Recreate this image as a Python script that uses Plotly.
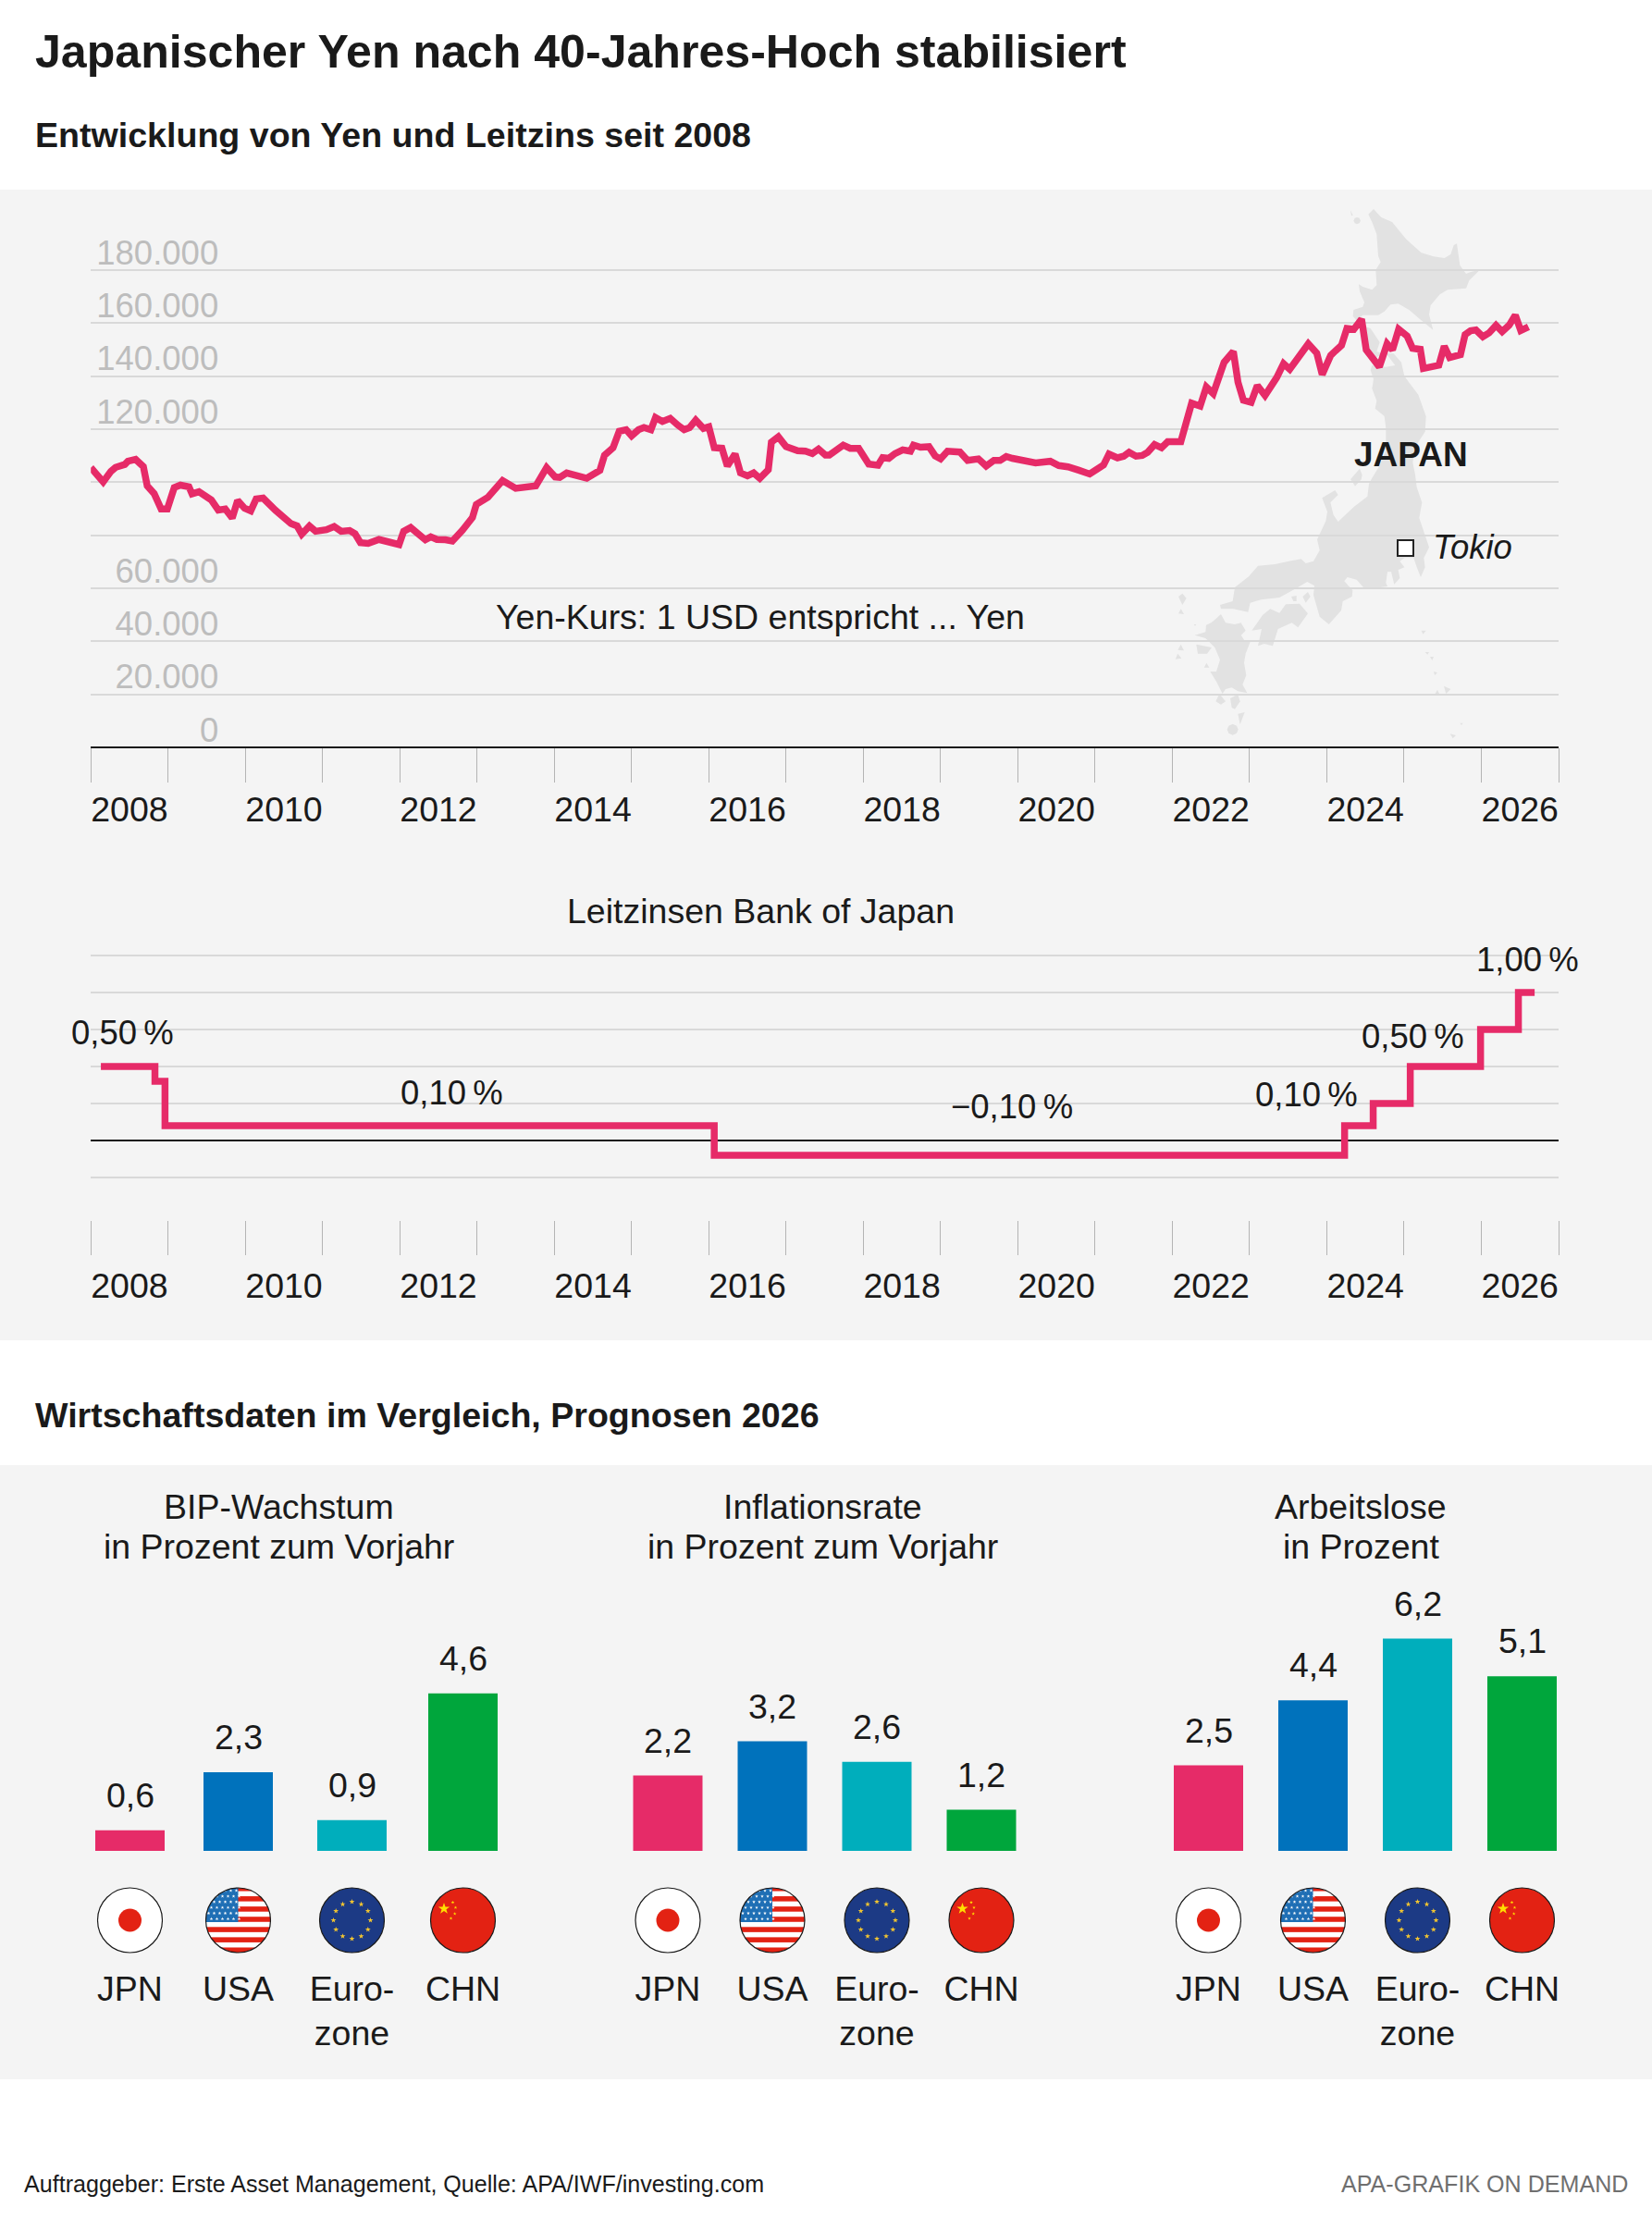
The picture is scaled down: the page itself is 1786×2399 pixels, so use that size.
import base64, math
import plotly.graph_objects as go

W, H = 1786, 2399
TEXT = "#1a1a1a"
PINK = "#E62B68"
BLUE = "#0072BC"
TEAL = "#00AEBC"
GREEN = "#00A63C"
PANEL = "#F4F4F4"
GRID = "#D9D9D9"
FONT = "Liberation Sans"

# ---------- data ----------
yen_years = [2008.0,2008.16,2008.26,2008.32,2008.44,2008.48,2008.58,2008.68,2008.73,2008.82,2008.91,2008.99,
 2009.08,2009.16,2009.27,2009.31,2009.40,2009.56,2009.65,2009.74,2009.83,2009.90,2009.99,
 2010.07,2010.14,2010.23,2010.39,2010.59,2010.67,2010.73,2010.83,2010.91,
 2011.05,2011.15,2011.24,2011.35,2011.42,2011.49,2011.59,2011.73,2011.99,
 2012.05,2012.14,2012.25,2012.33,2012.40,2012.48,2012.59,2012.68,2012.81,2012.94,2012.99,
 2013.14,2013.33,2013.50,2013.76,2013.90,
 2014.01,2014.07,2014.16,2014.29,2014.42,2014.59,2014.65,2014.76,2014.84,2014.93,
 2015.0,2015.09,2015.16,2015.25,2015.31,2015.40,2015.50,2015.60,2015.68,2015.75,2015.83,2015.93,
 2016.0,2016.07,2016.17,2016.24,2016.34,2016.41,2016.50,2016.58,2016.66,2016.77,2016.81,2016.90,
 2017.0,2017.15,2017.25,2017.34,2017.42,2017.51,2017.56,2017.74,2017.83,2017.94,
 2018.07,2018.19,2018.25,2018.33,2018.41,2018.51,2018.61,2018.65,2018.74,2018.85,2018.93,
 2019.0,2019.09,2019.25,2019.35,2019.49,2019.59,2019.69,2019.77,2019.85,2019.93,
 2020.23,2020.42,2020.53,2020.65,2020.79,2020.93,
 2021.11,2021.18,2021.29,2021.37,2021.44,2021.53,2021.61,2021.68,2021.77,2021.86,2021.94,
 2022.11,2022.25,2022.36,2022.44,2022.53,2022.67,2022.79,2022.85,2022.92,
 2023.02,2023.10,2023.20,2023.35,2023.44,2023.52,2023.76,2023.87,2023.94,
 2024.05,2024.11,2024.19,2024.26,2024.35,2024.45,2024.51,2024.68,2024.78,2024.85,2024.93,
 2025.04,2025.11,2025.21,2025.25,2025.45,2025.52,2025.59,2025.73,2025.79,2025.86,2025.93,
 2026.02,2026.10,2026.19,2026.27,2026.36,2026.44,2026.51,2026.61]
yen_values = [105.5,100.1,104.1,105.6,106.7,107.9,108.6,105.9,98.6,95.7,89.9,89.9,
 98.0,98.9,98.3,95.6,96.4,93.3,89.5,89.9,86.5,93.1,90.2,
 89.2,93.7,94.0,89.4,84.4,83.5,80.4,83.5,81.5,
 82.1,83.3,81.5,81.8,80.6,77.2,76.9,78.4,76.5,
 81.5,82.9,80.0,78.3,79.4,78.4,78.3,77.8,81.9,86.7,91.6,
 94.3,100.6,97.7,98.6,105.5,
 102.0,101.8,103.5,102.3,101.5,104.5,110.2,113.0,119.2,119.8,
 117.5,119.8,120.6,119.8,124.4,122.9,124.1,121.5,119.8,120.6,123.4,120.3,
 120.9,113.0,112.8,106.1,110.7,103.5,102.4,103.5,101.5,104.7,115.1,117.1,
 113.4,111.9,111.7,110.8,112.5,110.2,110.2,114.0,112.8,112.8,
 106.8,106.4,109.3,109.0,110.8,112.2,111.7,114.0,113.2,113.4,109.9,
 108.8,111.7,111.4,108.2,108.8,106.1,108.2,108.2,109.7,109.0,
 107.3,107.9,106.3,105.8,104.5,103.1,
 106.5,110.6,109.2,109.8,111.3,109.8,110.1,111.3,114.2,113.0,115.3,
 115.3,129.8,128.7,135.9,133.4,145.2,149.3,137.7,130.9,
 130.1,136.5,132.7,139.4,144.7,142.6,152.2,148.7,140.6,
 147.8,149.5,151.6,158.0,157.7,161.5,149.9,143.5,152.2,149.9,157.7,
 155.1,150.5,150.1,142.9,144.1,151.3,147.0,148.1,155.7,157.1,157.4,
 154.9,156.3,159.2,156.8,159.2,163.0,157.2,158.6]

rate_years = [2008.13,2008.83,2008.96,2016.07,2024.23,2024.60,2025.08,2025.99,2026.48,2026.69]
rate_values = [0.50,0.40,0.10,-0.10,0.10,0.25,0.50,0.75,1.00,1.00]
rate_label_text = ["0,50\u2009%","0,10\u2009%","\u22120,10\u2009%","0,10\u2009%","0,50\u2009%","1,00\u2009%"]
rate_label_x = [2008.41,2012.67,2019.92,2023.74,2025.11,2026.60]
rate_label_y = [0.731,0.325,0.231,0.3125,0.706,1.225]

year_labels = list(range(2008, 2027, 2))
yen_ticks = [0,20,40,60,80,100,120,140,160,180]
yen_ticktext = ["0","20.000","40.000","60.000","","","120.000","140.000","160.000","180.000"]
rate_ticks = [-0.25,0,0.25,0.5,0.75,1.0,1.25]

countries = ["JPN","USA","Euro-<br>zone","CHN"]
bar_colors = [PINK,BLUE,TEAL,GREEN]
gdp = [0.6,2.3,0.9,4.6]
inflation = [2.2,3.2,2.6,1.2]
unemployment = [2.5,4.4,6.2,5.1]
panel_titles = [["BIP-Wachstum","in Prozent zum Vorjahr"],
                ["Inflationsrate","in Prozent zum Vorjahr"],
                ["Arbeitslose","in Prozent"]]

# ---------- helpers ----------
fx = lambda p: p / W
fy = lambda p: 1 - p / H
X0, X1 = 98.2, 1685.0
xdom = [fx(X0), fx(X1)]

def ann(text, x, y, size=37.5, color=TEXT, anchor="left", bold=False, italic=False):
    t = f"<b>{text}</b>" if bold else text
    t = f"<i>{t}</i>" if italic else t
    return dict(text=t, x=fx(x), y=fy(y), xref="paper", yref="paper", showarrow=False,
                xanchor=anchor, yanchor="middle", font=dict(family=FONT, size=size, color=color))

annotations = [
    ann("Japanischer Yen nach 40-Jahres-Hoch stabilisiert", 36, 56, 50.1, bold=True),
    ann("Entwicklung von Yen und Leitzins seit 2008", 36, 146, 37.6, bold=True),
    ann("Wirtschaftsdaten im Vergleich, Prognosen 2026", 36, 1530, 37.6, bold=True),
    ann("Yen-Kurs: 1 USD entspricht ... Yen", 822, 667, anchor="center"),
    ann("Leitzinsen Bank of Japan", 822, 985, anchor="center"),
    ann("JAPAN", 1525, 492, 37, anchor="center", bold=True),
    ann("Tokio", 1547, 592, 36.5, italic=True),
    ann("Auftraggeber: Erste Asset Management, Quelle: APA/IWF/investing.com", 24, 2361, 25.1),
    ann("APA-GRAFIK ON DEMAND", 1762, 2361, 25.1, color="#6f6f6f", anchor="right"),
]
for txt, xv, yv in zip(rate_label_text, rate_label_x, rate_label_y):
    annotations.append(dict(text=txt, x=xv, y=yv, xref="x2", yref="y2", showarrow=False, xanchor="center",
                            yanchor="middle", font=dict(family=FONT, size=36.5, color=TEXT)))

# ---------- map of Japan (decoration) ----------
def z9(pts):  return [(1270 + x / 3, 220 + y / 3) for x, y in pts]
def z10(pts): return [(1250 + x / 3, 510 + y / 3) for x, y in pts]

hokkaido = z9([(645,18),(628,35),(640,60),(655,100),(660,170),(668,190),(652,215),(655,265),(640,280),(610,270),(597,262),
 (600,285),(615,320),(610,335),(580,345),(578,365),(590,380),(610,362),(660,362),(680,350),(700,328),(725,325),(760,345),
 (795,375),(838,410),(825,360),(830,330),(860,295),(885,280),(945,275),(955,250),(990,215),(960,222),(945,228),(925,200),
 (915,130),(905,135),(895,165),(875,177),(840,172),(800,160),(750,115),(705,60),(670,45)])
honshu = z10([(668,-475),(695,-465),(725,-420),(715,-390),(730,-385),(770,-383),(795,-355),(805,-310),(850,-250),(875,-180),
 (872,-130),(840,-80),(832,-30),(840,10),(845,50),(862,100),(853,150),(870,200),(885,245),(868,280),(872,310),(858,342),(845,310),(835,280),
 (805,280),(790,290),(805,310),(785,318),(790,345),(772,365),(762,325),(750,325),(745,360),(750,372),(700,378),(672,375),
 (650,350),(620,342),(610,355),(637,385),(635,405),(605,420),(600,450),(560,495),(530,470),(510,400),(513,370),(490,357),
 (450,380),(400,408),(340,415),(305,425),(298,455),(250,445),(210,445),(207,432),(248,420),(255,375),(300,340),(330,305),
 (385,300),(430,290),(470,283),(485,297),(510,290),(530,255),(522,220),(550,160),(555,130),(538,85),(580,60),(590,75),
 (565,100),(575,140),(590,162),(640,115),(685,80),(690,40),(700,20),(725,-20),(745,-70),(745,-140),(740,-180),(710,-205),
 (715,-230),(700,-270),(705,-300),(695,-330),(700,-345),(745,-340),(775,-345),(745,-385),(710,-370),(690,-400)])
kyushu = z10([(210,462),(225,490),(255,495),(275,490),(290,515),(275,530),(285,545),(305,552),(290,590),(285,620),(292,660),
 (280,690),(295,718),(265,712),(245,700),(225,705),(215,720),(195,680),(175,648),(195,648),(207,610),(190,570),(160,540),
 (125,530),(160,520),(162,497),(178,490),(190,480)])
shikoku = z10([(310,515),(345,465),(370,445),(400,458),(420,430),(465,428),(492,460),(460,505),(440,490),(395,510),(378,565),
 (350,558),(330,565),(342,510)])
islands = [z10(p) for p in [
 [(630,25),(660,-10),(668,10),(665,25),(645,47),(638,35)],
 [(130,560),(180,570),(165,590),(135,590)],
 [(265,785),(287,780),(272,820)],
 [(85,395),(98,410),(85,432),(72,405)],[(72,460),(80,445),(90,462)],[(70,578),(80,560),(90,580)],
 [(62,608),(70,590),(82,605)],[(155,635),(163,620),(172,635)],[(193,745),(205,720),(225,745),(210,755)],
 [(240,735),(265,722),(272,745),(255,770),(245,765)],[(438,405),(455,402),(455,420),(445,420)],
 [(475,405),(492,390),(500,405),(485,425)],[(860,515),(875,515),(865,527)],[(872,585),(885,585),(880,593)],
 [(888,600),(900,600),(895,612)],[(900,648),(912,652),(903,660)],[(933,695),(955,705),(940,720)],
 [(905,720),(912,707),(918,720)],[(985,815),(995,815),(990,822)],[(953,850),(972,855),(962,865)],
 [(122,495),(130,495),(126,500)],
 [(230,836),(235,824),(248,818),(261,824),(266,836),(261,848),(248,854),(235,848)],
]] + [z9([(570,22),(578,38),(573,40)]), z9([(580,56),(584,47),(591,45),(599,47),(603,56),(599,64),(591,67),(584,64)])]

def path_of(pts):
    return "M" + "L".join(f"{fx(x):.5f},{fy(y):.5f}" for x, y in pts) + "Z"

shapes = [
    dict(type="rect", xref="paper", yref="paper", x0=0, x1=1, y0=fy(205), y1=fy(1449), fillcolor=PANEL, line_width=0, layer="below"),
    dict(type="rect", xref="paper", yref="paper", x0=0, x1=1, y0=fy(1584), y1=fy(2248), fillcolor=PANEL, line_width=0, layer="below"),
]
for poly in [hokkaido, honshu, kyushu, shikoku] + islands:
    shapes.append(dict(type="path", xref="paper", yref="paper", path=path_of(poly), fillcolor="#E2E2E2", line_width=0, layer="below"))
shapes.append(dict(type="rect", xref="paper", yref="paper", x0=fx(1511), x1=fx(1528), y0=fy(584), y1=fy(601),
                   fillcolor="white", line=dict(color="#222222", width=2), layer="above"))

# ---------- flags ----------
def star(cx, cy, r):
    pts = []
    for i in range(10):
        a = -math.pi / 2 + i * math.pi / 5
        rr = r if i % 2 == 0 else r * 0.4
        pts.append(f"{cx + rr * math.cos(a):.2f},{cy + rr * math.sin(a):.2f}")
    return " ".join(pts)

def svg_uri(body):
    s = ('<svg xmlns="http://www.w3.org/2000/svg" viewBox="0 0 72 72" width="288" height="288">'
         '<defs><clipPath id="c"><circle cx="36" cy="36" r="35"/></clipPath></defs>' + body +
         '<circle cx="36" cy="36" r="35" fill="none" stroke="#1a1a1a" stroke-width="1.2"/></svg>')
    return "data:image/svg+xml;base64," + base64.b64encode(s.encode()).decode()

RED = "#E32213"
jp = '<circle cx="36" cy="36" r="35" fill="white"/><circle cx="36" cy="36" r="12.5" fill="%s"/>' % RED
us = '<g clip-path="url(#c)"><rect width="72" height="72" fill="white"/>'
for i in range(0, 13, 2):
    us += f'<rect x="0" y="{i * 72 / 13 - 1:.2f}" width="72" height="{72 / 13:.2f}" fill="{RED}"/>'
us += '<rect x="0" y="0" width="36" height="38" fill="#1F6FB5"/>'
for r_ in range(6):
    for c_ in range(6):
        us += f'<polygon points="{star(4 + c_ * 6 + (r_ % 2) * 3, 4 + r_ * 6.1, 1.9)}" fill="white"/>'
us += '</g>'
eu = '<circle cx="36" cy="36" r="35" fill="#1C3A85"/>'
for i in range(12):
    a = i * math.pi / 6
    eu += f'<polygon points="{star(36 + 20 * math.cos(a), 36 + 20 * math.sin(a), 3.1)}" fill="#F2C530"/>'
cn = f'<circle cx="36" cy="36" r="35" fill="{RED}"/><polygon points="{star(15.5, 23.5, 6.5)}" fill="#FFDE00"/>'
for dx, dy in [(-11, -19.3), (-8, -13.7), (-8.8, -7), (-13, -2)]:
    cn += f'<polygon points="{star(36 + dx, 36 + dy, 1.9)}" fill="#FFDE00"/>'
flags = [svg_uri(jp), svg_uri(us), svg_uri(eu), svg_uri(cn)]

# ---------- figure ----------
fig = go.Figure()
fig.add_trace(go.Scatter(x=yen_years, y=yen_values, mode="lines", xaxis="x", yaxis="y",
                         line=dict(color=PINK, width=7.5), showlegend=False, hoverinfo="skip"))
fig.add_trace(go.Scatter(x=rate_years, y=rate_values, mode="lines", xaxis="x2", yaxis="y2",
                         line=dict(color=PINK, width=7.5, shape="hv"), showlegend=False, hoverinfo="skip"))

def time_axis(domain_anchor, standoff):
    return dict(domain=xdom, range=[2008, 2027], anchor=domain_anchor, showgrid=False, zeroline=False,
                tickmode="array", tickvals=[y + 0.5 for y in year_labels], ticktext=[str(y) for y in year_labels],
                ticks="", ticklen=0, ticklabelstandoff=standoff, showline=False,
                tickfont=dict(family=FONT, size=37.5, color=TEXT),
                minor=dict(tickmode="array", tickvals=list(range(2008, 2028)), ticks="outside", ticklen=37,
                           tickwidth=1, tickcolor="#B4B4B4", showgrid=False))

layout_axes = {
    "xaxis": time_axis("y", 41),
    "yaxis": dict(domain=[fy(808), fy(289.13)], range=[0, 181], anchor="x", tickmode="array", tickvals=yen_ticks,
                  ticktext=yen_ticktext, tickfont=dict(family=FONT, size=36.5, color="#BDBDBD"),
                  ticklabelstandoff=-139, ticklabelshift=-19, showgrid=True, gridcolor=GRID, gridwidth=1.5,
                  zeroline=True, zerolinecolor="#1a1a1a", zerolinewidth=2, showline=False),
    "xaxis2": time_axis("y2", 45),
    "yaxis2": dict(domain=[fy(1319), fy(1029.8)], range=[-0.5375, 1.27], anchor="x2", tickmode="array", tickvals=rate_ticks,
                   showticklabels=False, showgrid=True, gridcolor=GRID, gridwidth=1.5,
                   zeroline=True, zerolinecolor="#1a1a1a", zerolinewidth=2, showline=False),
}

panels = [(gdp, 80.5, 120.0, 301, [0, 0.975, 2, 3]),
          (inflation, 665.5, 113.0, 889, [0, 1, 2, 3]),
          (unemployment, 1250.0, 113.0, 1471, [0, 1, 2, 3])]
images = []
for i, (vals, left, step, tcx, slots) in enumerate(panels):
    n = i + 3
    fig.add_trace(go.Bar(x=slots, y=vals, width=75 / step, marker=dict(color=bar_colors, line_width=0),
                         xaxis=f"x{n}", yaxis=f"y{n}", showlegend=False, hoverinfo="skip", cliponaxis=False))
    layout_axes[f"xaxis{n}"] = dict(domain=[fx(left), fx(left + 4 * step)], anchor=f"y{n}", range=[-0.5, 3.5],
                                    tickmode="array", tickvals=slots, ticktext=countries, showgrid=False, zeroline=False,
                                    showline=False, ticks="", ticklabelstandoff=123,
                                    tickangle=0, tickfont=dict(family=FONT, size=37.5, color=TEXT))
    layout_axes[f"yaxis{n}"] = dict(domain=[fy(2001), fy(1742)], range=[0, 7], anchor=f"x{n}", visible=False)
    for j, v in enumerate(vals):
        annotations.append(dict(text=f"{v:.1f}".replace(".", ","), x=slots[j], y=v, xref=f"x{n}", yref=f"y{n}", showarrow=False,
                                xanchor="center", yanchor="bottom", yshift=15,
                                font=dict(family=FONT, size=37.5, color=TEXT)))
        cx = left + step * (slots[j] + 0.5)
        images.append(dict(source=flags[j], xref="paper", yref="paper", x=fx(cx - 36), y=fy(2040),
                           sizex=72 / W, sizey=72 / H, xanchor="left", yanchor="top", sizing="stretch", layer="above"))
    for k, line in enumerate(panel_titles[i]):
        annotations.append(ann(line, tcx, 1629 + 43 * k, 37.5, anchor="center"))

fig.update_layout(width=W, height=H, margin=dict(l=0, r=0, t=0, b=0, autoexpand=False), paper_bgcolor="white",
                  plot_bgcolor="rgba(0,0,0,0)", showlegend=False, separators=",.",
                  font=dict(family=FONT, color=TEXT), annotations=annotations, shapes=shapes, images=images, **layout_axes)
fig.write_html("out.html", post_script="document.body.style.margin='0';", config={"displayModeBar": False})
